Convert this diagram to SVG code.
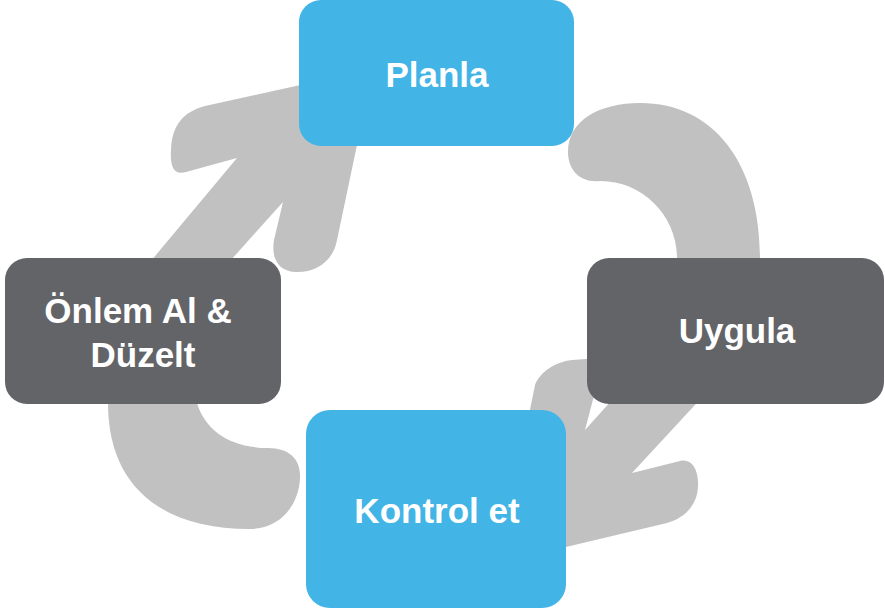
<svg xmlns="http://www.w3.org/2000/svg" width="885" height="611" viewBox="0 0 885 611">
  <style>
    .flow { fill: #c1c1c1; stroke: none; }
    .blue { fill: #42b4e6; }
    .dark { fill: #636468; }
    .label { font-family: "Liberation Sans", Arial, sans-serif; font-weight: bold; font-size: 35px; fill: #ffffff; text-anchor: middle; }
  </style>
  <rect width="885" height="611" fill="#ffffff"/>

  <!-- cycle connectors -->
  <g id="connectors">
    <!-- Önlem Al & Düzelt -> Planla -->
    <path class="flow" d="M 135 280 L 237 158 L 186 172 C 173 176 170 165 171 150 C 172 125 183 112 205 106 L 373 69 L 337 240 C 333 262 315 273 295 272 C 278 271 271 258 274 240 L 283 202 L 213 280 Z"/>
    <!-- Planla -> Uygula -->
    <path class="flow" d="M 677 280 L 677 258 C 677 215.5 642.5 181 600 181 C 580 183 568 170 568 152 C 568 120 600 103 640 103 C 715 103 760 165 760 258 L 760 280 Z"/>
    <!-- Uygula -> Kontrol et -->
    <path class="flow" d="M 630 380 L 585 430 L 596 388 L 600 358 L 572 360 C 555 362 540 372 535 385 L 499 563 L 667 523 C 685 518 697 505 698 487 C 699 470 692 458 680 461 L 632 473 L 718 380 Z"/>
    <!-- Kontrol et -> Önlem Al & Düzelt -->
    <path class="flow" d="M 108 380 L 108 403 C 108 485 160 529 250 529 C 280 529 299 505 300 478 C 301 460 290 448 268 448 C 230 448 205 430 197 403 L 197 380 Z"/>
  </g>

  <g id="planla">
    <rect class="blue" x="299" y="0" width="275" height="146" rx="22"/>
    <text class="label" x="437" y="87">Planla</text>
  </g>

  <g id="uygula">
    <rect class="dark" x="587" y="258" width="297" height="146" rx="22"/>
    <text class="label" x="737" y="343">Uygula</text>
  </g>

  <g id="kontrol-et">
    <rect class="blue" x="306" y="410" width="260" height="198" rx="24"/>
    <text class="label" x="437" y="523">Kontrol et</text>
  </g>

  <g id="onlem-al-duzelt">
    <rect class="dark" x="5" y="258" width="276" height="146" rx="22"/>
    <text class="label" x="138" y="323">Önlem Al &amp;</text>
    <text class="label" x="143" y="367">Düzelt</text>
  </g>
</svg>
